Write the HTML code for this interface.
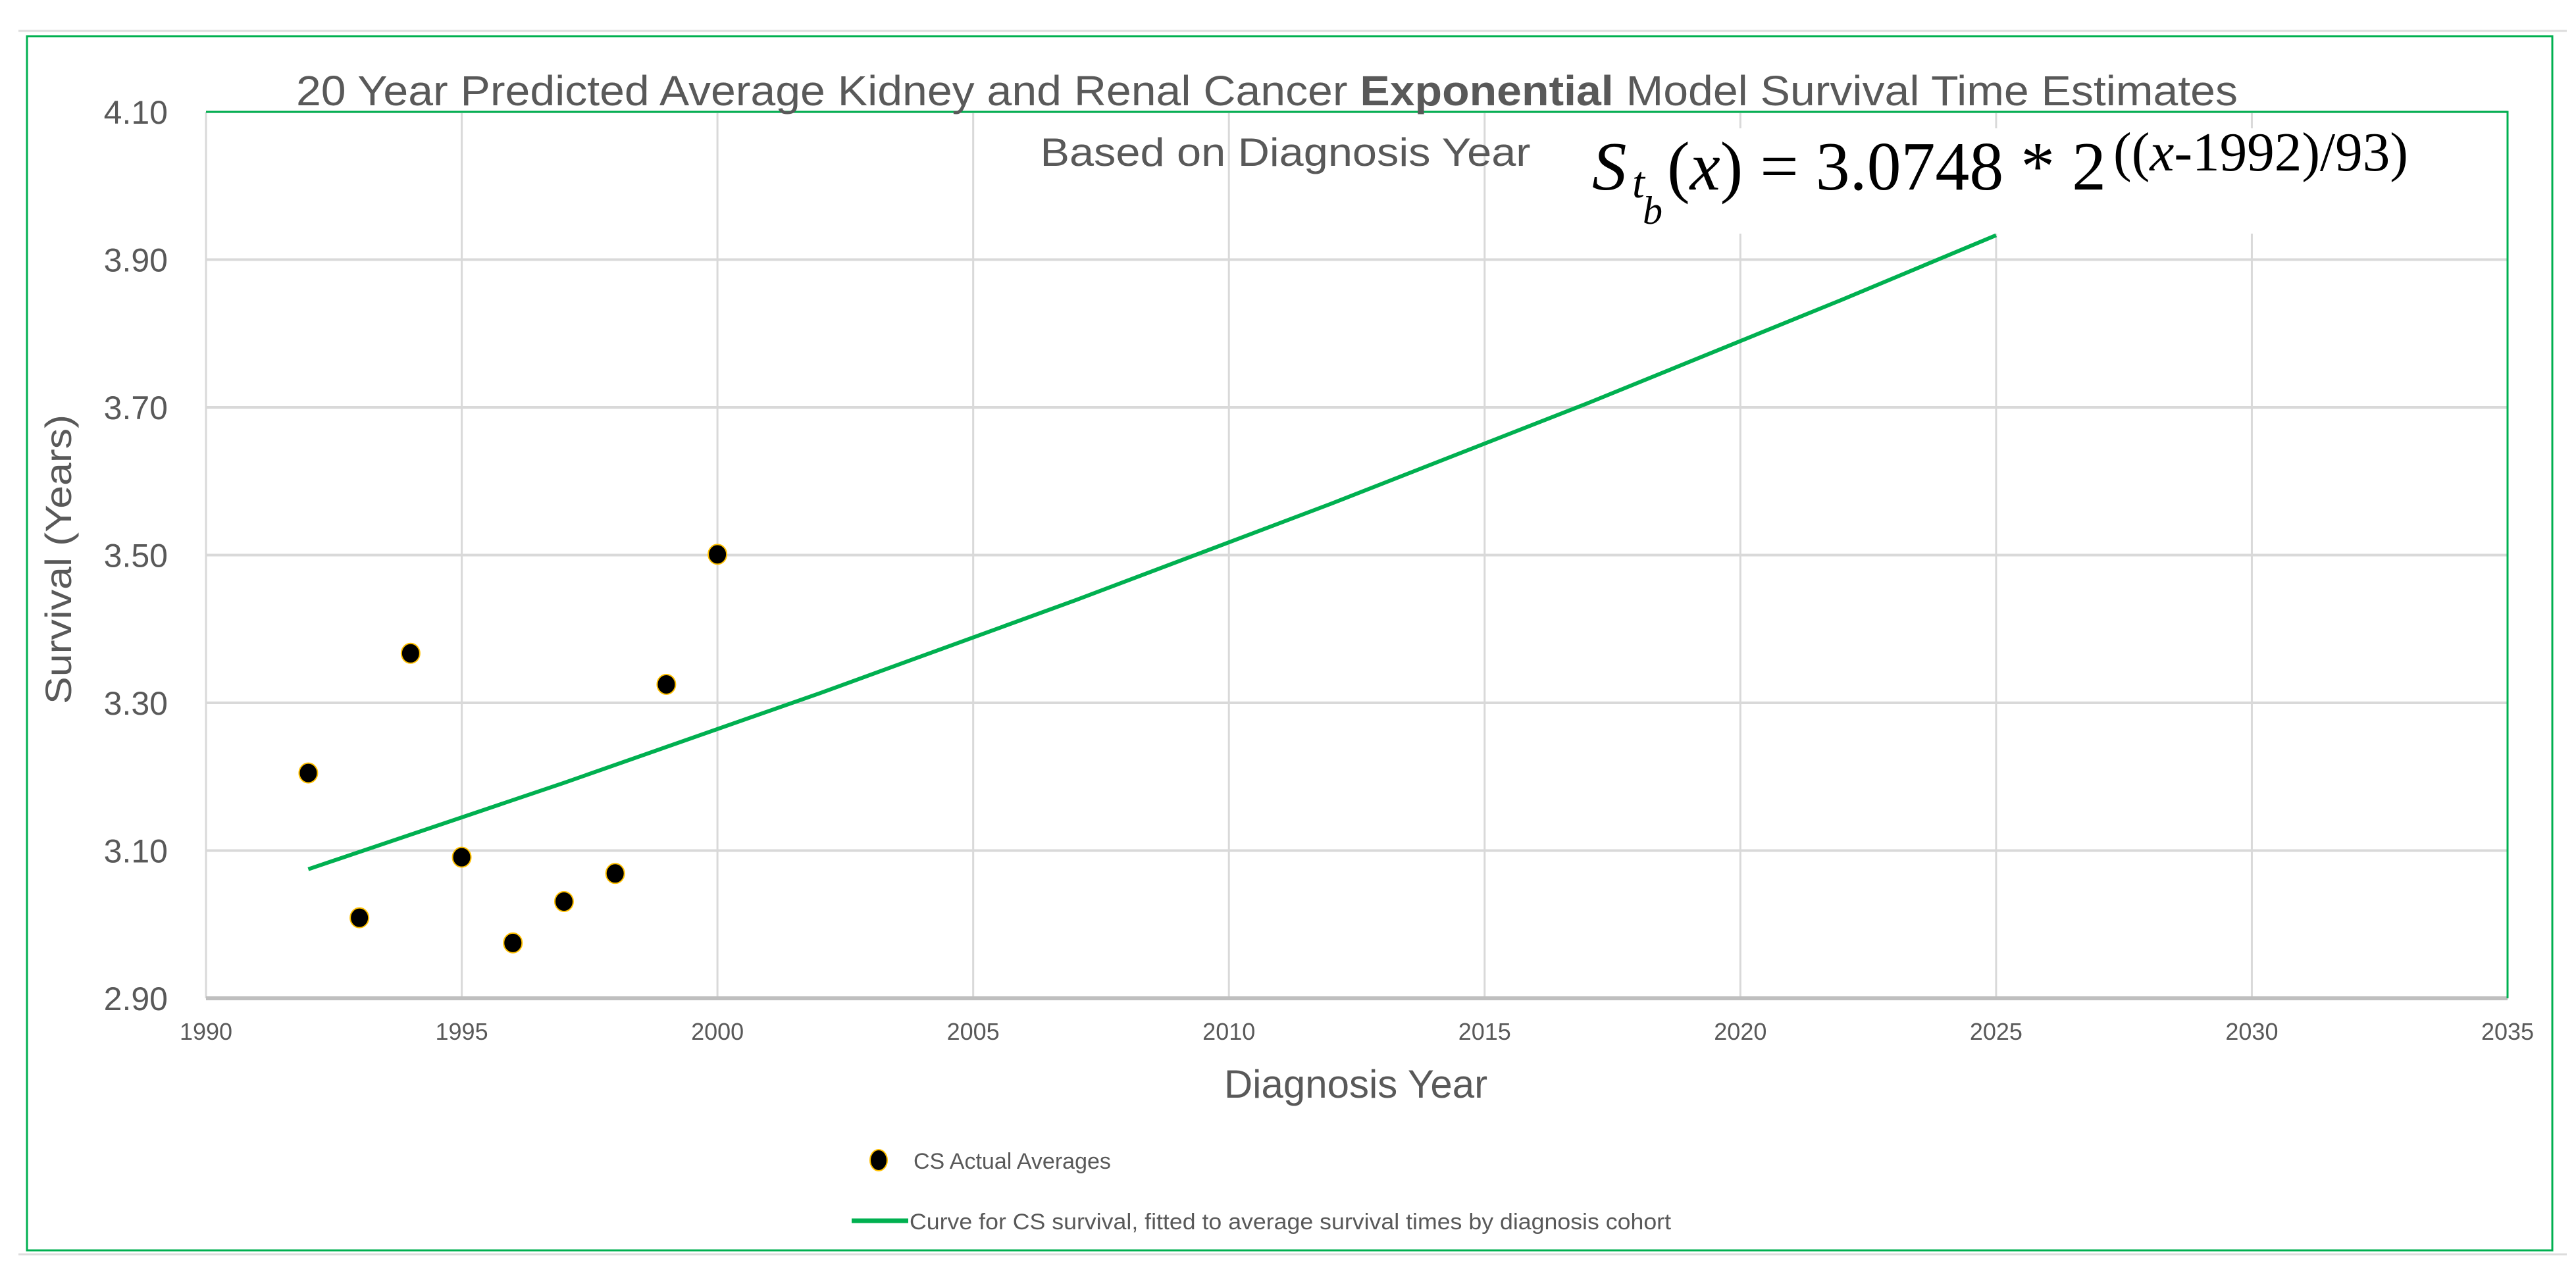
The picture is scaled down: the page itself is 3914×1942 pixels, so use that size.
<!DOCTYPE html>
<html><head><meta charset="utf-8"><style>
html,body{margin:0;padding:0;background:#fff;}
svg{display:block;font-family:"Liberation Sans",sans-serif;}
</style></head><body>
<svg id="chart" width="3914" height="1942" viewBox="0 0 3914 1942">
<g id="bg">
 <line x1="28" y1="47" x2="3900" y2="47" stroke="#dcdcdc" stroke-width="3"/>
 <line x1="28" y1="1906" x2="3900" y2="1906" stroke="#dcdcdc" stroke-width="3"/>
 <rect x="41" y="55" width="3837" height="1845" fill="#fff" stroke="#00b050" stroke-width="3"/>
</g>
<g id="grid"></g>
<rect x="2380" y="195" width="1320" height="160" fill="#fff"/>
<g id="plot"></g>
<g id="ticks"></g>
<text x="1925" y="160" font-size="64" fill="#595959" text-anchor="middle" textLength="2950" lengthAdjust="spacingAndGlyphs">20 Year Predicted Average Kidney and Renal Cancer <tspan font-weight="bold">Exponential</tspan> Model Survival Time Estimates</text>
<text x="1953" y="252" font-size="60" fill="#595959" text-anchor="middle" textLength="745" lengthAdjust="spacingAndGlyphs">Based on Diagnosis Year</text>
<g font-family="'Liberation Serif',serif" fill="#000">
 <text x="2419" y="288" font-size="105" font-style="italic">S</text>
 <text x="2480" y="300" font-size="68" font-style="italic">t</text>
 <text x="2496" y="340" font-size="60" font-style="italic">b</text>
 <text x="2533" y="288" font-size="105" textLength="667" lengthAdjust="spacingAndGlyphs">(<tspan font-style="italic">x</tspan>) = 3.0748 * 2</text>
 <text x="3211" y="259" font-size="84" textLength="448" lengthAdjust="spacingAndGlyphs">((<tspan font-style="italic">x</tspan>-1992)/93)</text>
</g>
<text transform="translate(108,850) rotate(-90)" font-size="56" fill="#595959" text-anchor="middle" textLength="440" lengthAdjust="spacingAndGlyphs">Survival (Years)</text>
<text x="2060" y="1668" font-size="60" fill="#595959" text-anchor="middle">Diagnosis Year</text>
<g>
 <g>
  <ellipse cx="1335" cy="1763" rx="13" ry="16" fill="#000" stroke="#ffc000" stroke-width="2"/>
  <text x="1388" y="1776" font-size="34" fill="#595959">CS Actual Averages</text>
 </g>
 <g>
  <line x1="1294" y1="1855" x2="1380" y2="1855" stroke="#00b050" stroke-width="7"/>
  <text x="1382" y="1868" font-size="34" fill="#595959" textLength="1157" lengthAdjust="spacingAndGlyphs">Curve for CS survival, fitted to average survival times by diagnosis cohort</text>
 </g>
</g>
</svg>
<script>
const xTicks = [1990,1995,2000,2005,2010,2015,2020,2025,2030,2035];
const yTicks = [2.90,3.10,3.30,3.50,3.70,3.90,4.10];
const actualYears = [1992,1993,1994,1995,1996,1997,1998,1999,2000];
const actualValues = [3.205,3.009,3.367,3.091,2.975,3.031,3.069,3.325,3.501];
const curveYears = [1992,1997,2002,2007,2012,2017,2022,2025];
const curveValues = [3.0748,3.1917,3.3130,3.4389,3.5696,3.7052,3.8461,3.933];

const NS='http://www.w3.org/2000/svg';
const L=313,R=3810,T=170,B=1517;
const xMin=1990,xMax=2035,yMin=2.9,yMax=4.1;
function sx(v){return L+(v-xMin)/(xMax-xMin)*(R-L);}
function sy(v){return B-(v-yMin)/(yMax-yMin)*(B-T);}
function mk(tag,attrs,parent){const e=document.createElementNS(NS,tag);for(const k in attrs)e.setAttribute(k,attrs[k]);parent.appendChild(e);return e;}
const grid=document.getElementById('grid'),plot=document.getElementById('plot'),ticks=document.getElementById('ticks');
xTicks.forEach(t=>{
  const ln=mk('line',{x1:sx(t),y1:T,x2:sx(t),y2:B,stroke:'#d9d9d9','stroke-width':3},grid);
  
  
  const tx=mk('text',{x:sx(t),y:1580,'font-size':36,fill:'#595959','text-anchor':'middle'},ticks);
  tx.textContent=t;
  
  
});
yTicks.forEach(t=>{
  const ln=mk('line',{x1:L,y1:sy(t),x2:R,y2:sy(t),stroke:'#d9d9d9','stroke-width':4},grid);
  
  
  const tx=mk('text',{x:255,y:sy(t)+18,'font-size':50,fill:'#595959','text-anchor':'end'},ticks);
  tx.textContent=t.toFixed(2);
  
  
});
const ax=mk('line',{x1:L,y1:B,x2:R,y2:B,stroke:'#bfbfbf','stroke-width':6},grid);


const tb=mk('polyline',{points:`${L},${T} ${R},${T} ${R},${B}`,fill:'none',stroke:'#00b050','stroke-width':3},grid);


const pts=curveYears.map((y,i)=>sx(y)+','+sy(curveValues[i])).join(' ');
const cv=mk('polyline',{points:pts,fill:'none',stroke:'#00b050','stroke-width':6},plot);


actualYears.forEach((y,i)=>{
  const c=mk('ellipse',{cx:sx(y),cy:sy(actualValues[i]),rx:14,ry:15,fill:'#000',stroke:'#ffc000','stroke-width':2},plot);
  
  
});
</script>
</body></html>
